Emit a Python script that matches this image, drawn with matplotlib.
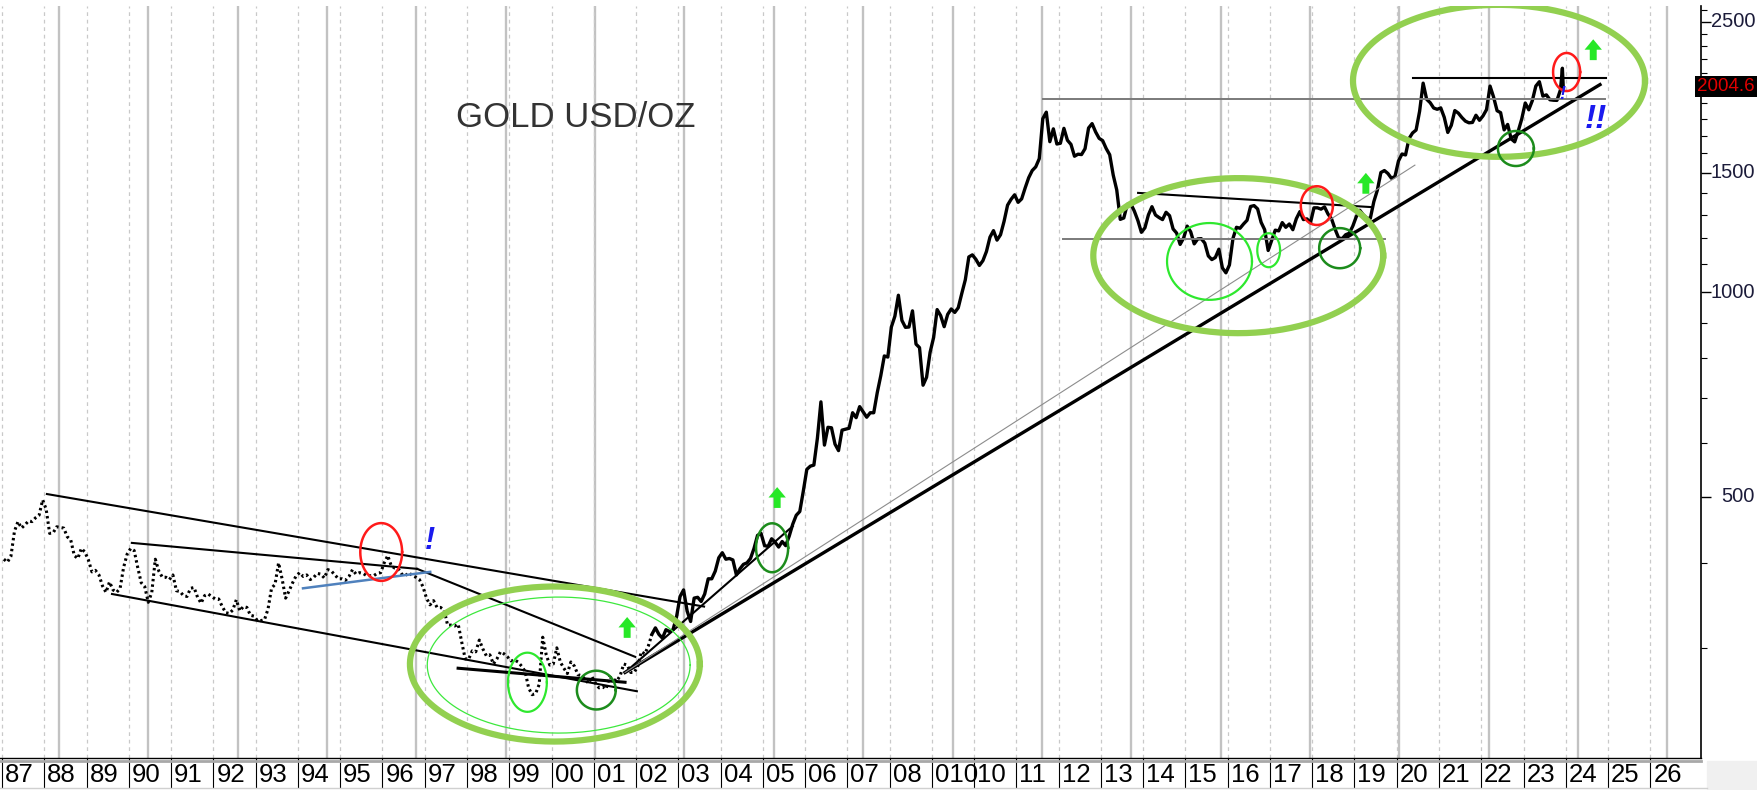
import numpy as np
import matplotlib
matplotlib.use("Agg")
import matplotlib.pyplot as plt
import matplotlib.transforms as mtransforms
from matplotlib.lines import Line2D
from matplotlib.patches import Rectangle

# gold, USD/oz, one value per month, Jan 1987 .. Nov 2023
gold_monthly = [
    405, 401, 409, 445, 460, 450, 455, 461, 460, 466, 470, 495,    # 1987
    480, 442, 443, 452, 451, 450, 437, 432, 410, 406, 420, 415,    # 1988
    404, 388, 390, 384, 370, 362, 375, 365, 362, 367, 394, 412,    # 1989
    420, 417, 394, 374, 369, 350, 362, 405, 389, 381, 381, 378,    # 1990
    384, 364, 363, 358, 357, 367, 368, 356, 349, 358, 360, 357,    # 1991
    354, 354, 345, 338, 337, 341, 353, 340, 345, 344, 335, 334,    # 1992
    329, 329, 330, 342, 367, 372, 400, 379, 355, 364, 374, 383,    # 1993
    387, 382, 384, 378, 381, 386, 385, 380, 391, 389, 384, 379,    # 1994
    379, 377, 382, 391, 385, 387, 386, 383, 383, 383, 386, 387,    # 1995
    400, 410, 396, 393, 392, 385, 383, 387, 383, 381, 378, 369,    # 1996
    355, 347, 352, 344, 344, 341, 324, 324, 323, 325, 306, 289,    # 1997
    289, 297, 296, 308, 299, 292, 293, 284, 289, 296, 294, 291,    # 1998
    287, 288, 286, 282, 277, 262, 256, 257, 265, 311, 293, 283,    # 1999
    284, 300, 286, 280, 275, 286, 282, 274, 273, 270, 266, 272,    # 2000
    266, 262, 263, 261, 272, 270, 268, 273, 284, 283, 276, 276,    # 2001
    282, 296, 294, 302, 314, 321, 314, 310, 319, 317, 319, 333,    # 2002
    357, 365, 340, 328, 355, 356, 351, 360, 379, 379, 389, 407,    # 2003
    414, 405, 406, 404, 384, 392, 398, 400, 406, 420, 439, 442,    # 2004
    424, 423, 434, 429, 422, 430, 424, 438, 456, 470, 476, 510,    # 2005
    549, 555, 557, 610, 690, 596, 633, 632, 598, 585, 627, 629,    # 2006
    631, 665, 654, 679, 667, 655, 665, 665, 712, 754, 806, 803,    # 2007
    889, 922, 990, 909, 888, 889, 939, 839, 829, 730, 750, 816,    # 2008
    858, 943, 924, 890, 928, 945, 934, 949, 996, 1043, 1127, 1135,  # 2009
    1118, 1095, 1113, 1148, 1205, 1232, 1193, 1215, 1271, 1343, 1370, 1391,  # 2010
    1356, 1372, 1424, 1474, 1510, 1529, 1572, 1800, 1840, 1665, 1739, 1652,  # 2011
    1656, 1742, 1673, 1650, 1585, 1596, 1594, 1626, 1744, 1770, 1721, 1684,  # 2012
    1671, 1627, 1593, 1487, 1414, 1280, 1286, 1347, 1349, 1316, 1275, 1225,  # 2013
    1244, 1300, 1336, 1299, 1288, 1279, 1311, 1296, 1239, 1222, 1176, 1202,  # 2014
    1251, 1227, 1178, 1198, 1199, 1181, 1131, 1117, 1125, 1157, 1086, 1068,  # 2015
    1097, 1200, 1246, 1242, 1260, 1276, 1337, 1341, 1326, 1267, 1236, 1152,  # 2016
    1192, 1234, 1231, 1266, 1246, 1260, 1236, 1283, 1314, 1279, 1282, 1265,  # 2017
    1331, 1331, 1325, 1335, 1303, 1282, 1238, 1202, 1199, 1215, 1221, 1250,  # 2018
    1291, 1320, 1300, 1285, 1284, 1359, 1413, 1500, 1510, 1495, 1471, 1480,  # 2019
    1560, 1597, 1592, 1683, 1715, 1732, 1846, 2030, 1922, 1900, 1866, 1858,  # 2020
    1867, 1808, 1718, 1760, 1850, 1834, 1807, 1785, 1775, 1777, 1821, 1790,  # 2021
    1817, 1856, 2010, 1937, 1849, 1837, 1733, 1765, 1681, 1664, 1726, 1798,  # 2022
    1898, 1855, 1913, 2010, 2040, 1943, 1951, 1919, 1916, 1915, 1985,        # 2023
]
first_year = 1987
tail_dates = [2023.92, 2023.94]     # early Dec 2023: spike high, last print
tail_prices = [2135, 2004.6]
last_price = 2004.6

year_ticks = list(range(1987, 2027))
year_labels = ["87", "88", "89", "90", "91", "92", "93", "94", "95", "96", "97",
               "98", "99", "00", "01", "02", "03", "04", "05", "06", "07", "08",
               "010", "10", "11", "12", "13", "14", "15", "16", "17", "18", "19",
               "20", "21", "22", "23", "24", "25", "26"]
price_ticks = [500, 1000, 1500, 2500]
price_minor = [300, 400, 600, 700, 800, 900, 1100, 1200, 1300, 1400, 1600, 1700,
               1800, 1900, 2000, 2100, 2200, 2300, 2400, 2600]

# hand drawn trend lines: year0, price0, year1, price1
black_lines = [
    (1988.06, 505, 2003.61, 345),
    (1990.07, 428, 1996.82, 392),
    (1996.82, 392, 2001.98, 291),
    (1989.60, 360, 2002.02, 259),
    (2001.74, 276, 2005.71, 453),
    (2013.88, 1400, 2019.42, 1334),
    (2020.39, 2067, 2024.95, 2067),
]
support_2001 = (1997.79, 280, 2001.74, 267)
long_uptrend = (2001.74, 276, 2024.81, 2020)
thin_uptrend = (2001.74, 276, 2020.43, 1538)
blue_line = (1994.12, 367, 1997.13, 388)
gray_levels = [(2012.10, 1197, 2019.72, 1197), (2011.63, 1924, 2024.93, 1924)]

# ellipses: centre year, centre price, width (years), height (log10 units)
big_ellipses = [(2000.08, 284, 6.86, 0.228), (2016.25, 1132, 6.86, 0.228),
                (2022.42, 2046, 6.91, 0.2235)]
thin_ellipses = [(2000.17, 283, 6.22, 0.200)]
bright_ellipses = [(1999.43, 267, 0.92, 0.087), (2015.57, 1110, 2.01, 0.113),
                   (2016.97, 1153, 0.54, 0.050)]
dark_ellipses = [(2001.06, 260, 0.92, 0.057), (2005.22, 421, 0.76, 0.072),
                 (2018.65, 1161, 0.97, 0.059), (2022.82, 1627, 0.85, 0.0515)]
red_ellipses = [(1995.97, 415, 0.99, 0.085), (2018.11, 1341, 0.76, 0.057),
                (2024.02, 2108, 0.64, 0.056)]
arrow_tips = [(2001.79, 333), (2005.34, 517), (2019.27, 1498), (2024.65, 2355)]
marks = [(1997.12, 431, "!", 22), (2024.72, 1793, "!!", 24), (2023.91, 1951, "!", 13)]

x_months = first_year + (np.arange(len(gold_monthly)) + 0.5) / 12
prices = np.array(gold_monthly, dtype=float)
split = 15 * 12 + 4   # dotted until spring 2002

fig = plt.figure(figsize=(17.58, 7.9), dpi=100)
ax = fig.add_axes([0, 32 / 790, 1701 / 1758, 752 / 790])
ax.set_yscale("log")
ax.set_xlim(1986.95, 2027.2)
ax.set_ylim(206.6, 2636)

for s in ["left", "top"]:
    ax.spines[s].set_visible(False)
ax.spines["right"].set_linewidth(1.2)
ax.spines["bottom"].set_linewidth(1.0)

# grid
ax.set_xticks(year_ticks)
ax.tick_params(axis="x", length=21.5, width=0.8, color="black", labelbottom=False)
ax.grid(axis="x", which="major", color="#c9c9c9", lw=0.9, ls=(0, (3, 3)))
for gx in np.arange(1988.346, 2027.2, 2.1143):
    ax.axvline(gx, color="#c2c2c2", lw=1.7, zorder=0)

ax.yaxis.tick_right()
ax.set_yticks(price_ticks)
ax.set_yticks(price_minor, minor=True)
ax.tick_params(axis="y", which="major", length=7, width=1, labelright=False)
ax.tick_params(axis="y", which="minor", length=4, width=0.8, labelright=False)
ytrans = mtransforms.blended_transform_factory(ax.transAxes, ax.transData)
for p in price_ticks:
    ax.text(1.0318, p, str(p), transform=ytrans, ha="right", va="center",
            fontsize=14.5, color="#1c1c3a", family="Liberation Sans", clip_on=False)
ax.text(1.0318, last_price, f"{last_price:.1f}", transform=ytrans, ha="right",
        va="center", fontsize=13.5, color="#e00000", family="Liberation Sans",
        bbox=dict(fc="black", ec="none", pad=1.5), clip_on=False)

xtrans = mtransforms.blended_transform_factory(ax.transData, ax.transAxes) + \
    mtransforms.ScaledTranslation(3 / 100, 0, fig.dpi_scale_trans)
for yr, lab in zip(year_ticks, year_labels):
    ax.text(yr, -0.006, lab, transform=xtrans, ha="left", va="top", fontsize=18.5,
            family=["Liberation Sans Narrow", "Liberation Sans"], clip_on=False)

# label row borders
fig.add_artist(Line2D([0, 1701 / 1758], [1 - 761 / 790] * 2, color="#a8a8a8", lw=2))
fig.add_artist(Line2D([0, 1707 / 1758], [1 - 788 / 790] * 2, color="#d0d0d0", lw=1))
fig.add_artist(Rectangle((1707 / 1758, 0), 51 / 1758, 1 - 761 / 790,
                         transform=fig.transFigure, color="#f0f0f0", zorder=0))

# price
ax.plot(x_months[:split + 1], prices[:split + 1], color="black", lw=2.2,
        ls=(0, (0.8, 1.0)), zorder=3)
ax.plot(np.r_[x_months[split:], tail_dates], np.r_[prices[split:], tail_prices],
        color="black", lw=2.4, zorder=3)

def seg(line, **kw):
    ax.plot([line[0], line[2]], [line[1], line[3]], zorder=4, **kw)

for ln in black_lines:
    seg(ln, color="black", lw=1.5)
seg(support_2001, color="black", lw=2.2)
seg(long_uptrend, color="black", lw=2.4)
seg(thin_uptrend, color="#8c8c8c", lw=0.8)
seg(blue_line, color="#4f81bd", lw=1.8)
for ln in gray_levels:
    seg(ln, color="#7a7a7a", lw=1.4)

t = np.linspace(0, 2 * np.pi, 300)

def ellipse(e, **kw):
    cx, cy, w, h = e
    ax.plot(cx + w / 2 * np.cos(t), cy * 10 ** (h / 2 * np.sin(t)), zorder=5, **kw)

for e in big_ellipses:
    ellipse(e, color="#92d050", lw=4.5)
for e in thin_ellipses:
    ellipse(e, color="#3de83d", lw=0.9)
for e in bright_ellipses:
    ellipse(e, color="#2ee82e", lw=1.6)
for e in dark_ellipses:
    ellipse(e, color="#1c8c1c", lw=1.8)
for e in red_ellipses:
    ellipse(e, color="#ff1a1a", lw=1.8)

for ax_x, ax_p in arrow_tips:
    ax.annotate("", xy=(ax_x, ax_p), xytext=(0, -15), textcoords="offset points",
                arrowprops=dict(arrowstyle="simple,head_length=0.75,head_width=1.25,tail_width=0.5",
                                fc="#27e827", ec="none", shrinkA=0, shrinkB=0), zorder=6)

for mx, mp, txt, fs in marks:
    ax.text(mx, mp, txt, ha="center", va="center", fontsize=fs, color="#1a1aee",
            fontweight="bold", fontstyle="italic", family="Liberation Sans", zorder=6)

ax.text(1997.74, 1805, "GOLD USD/OZ", ha="left", va="center", fontsize=25,
        color="#333333", family="Liberation Sans")

fig.savefig("out.png", dpi=100)
